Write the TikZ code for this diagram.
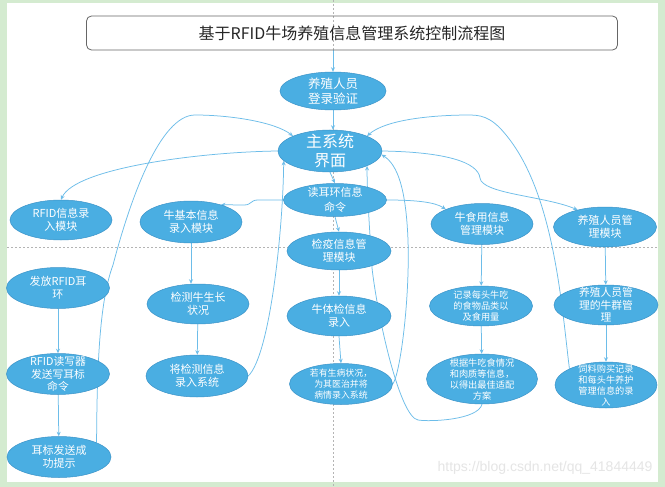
\documentclass[tikz,border=0pt]{standalone}
\usepackage{fontspec}
\setmainfont{Noto Sans CJK SC}
\newfontfamily\wmfont{Liberation Sans}
\usetikzlibrary{shapes.geometric,arrows.meta}
\pgfdeclarelayer{back}
\pgfdeclarelayer{bg}
\pgfsetlayers{back,bg,main}
\definecolor{bgreen}{HTML}{D4EBD0}
\definecolor{nodefill}{HTML}{4AAEE2}
\definecolor{nodeedge}{HTML}{3B93C8}
\definecolor{connblue}{HTML}{6DBDE9}
\definecolor{dotgray}{HTML}{B4B4B4}
\begin{document}
\begin{tikzpicture}[x=1pt,y=-1pt,
  oval/.style={ellipse, fill=nodefill, draw=nodeedge, line width=0.5pt, text=white, align=center, inner sep=-6pt},
  fbig/.style={font=\fontsize{16}{19}\selectfont},
  fmid/.style={font=\fontsize{12.5}{15}\selectfont},
  fnorm/.style={font=\fontsize{11}{13.5}\selectfont},
  fsm/.style={font=\fontsize{10.8}{12.6}\selectfont},
  ftiny/.style={font=\fontsize{9.2}{11}\selectfont},
  link/.style={draw=connblue, line width=0.75pt, -{Stealth[length=4.5pt,width=4pt]}},
  gridline/.style={draw=dotgray, line width=0.6pt, dash pattern=on 2pt off 2pt}
]
\useasboundingbox (0,0) rectangle (665,487);
\begin{pgfonlayer}{back}
\fill[bgreen] (0,0) rectangle (665,487);
\fill[white] (7,3) rectangle (658,482);
\end{pgfonlayer}

\node[draw=black!60, rounded corners=5pt, line width=0.8pt, minimum width=531pt, minimum height=34pt, fbig, text=black!85] (title) at (352,33) {基于RFID牛场养殖信息管理系统控制流程图};

\node[oval, minimum width=106pt, minimum height=38pt, fmid] (login) at (333,91) {养殖人员\\登录验证};
\node[oval, minimum width=104pt, minimum height=42pt, fbig] (main) at (330,151) {主系统\\界面};
\node[oval, minimum width=103pt, minimum height=33pt, font=\fontsize{11}{15}\selectfont] (read) at (335,200) {读耳环信息\\命令};
\node[oval, minimum width=104pt, minimum height=38pt, fnorm] (jianyi) at (339,251) {检疫信息管\\理模块};
\node[oval, minimum width=104pt, minimum height=40pt, fnorm] (tijian) at (339,316) {牛体检信息\\录入};
\node[oval, minimum width=103pt, minimum height=41pt, font=\fontsize{8.9}{11}\selectfont] (sick) at (341,384) {若有生病状况，\\为其医治并将\\病情录入系统};

\node[oval, minimum width=102pt, minimum height=40pt, fnorm] (rfid) at (61,220) {RFID信息录\\入模块};
\node[oval, minimum width=102pt, minimum height=42pt, fnorm] (jiben) at (191,222) {牛基本信息\\录入模块};
\node[oval, minimum width=102pt, minimum height=41pt, fnorm] (shiyong) at (482,224) {牛食用信息\\管理模块};
\node[oval, minimum width=103pt, minimum height=40pt, fnorm] (guanli) at (605,227) {养殖人员管\\理模块};

\node[oval, minimum width=103pt, minimum height=41pt, fnorm] (fafang) at (58,288) {发放RFID耳\\环};
\node[oval, minimum width=103pt, minimum height=41pt, fsm] (duxie) at (58,374) {RFID读写器\\发送写耳标\\命令};
\node[oval, minimum width=104pt, minimum height=41pt, fnorm] (erbiao) at (59,457) {耳标发送成\\功提示};

\node[oval, minimum width=102pt, minimum height=40pt, fnorm] (jiance) at (198,304) {检测牛生长\\状况};
\node[oval, minimum width=102pt, minimum height=42pt, fnorm] (luru) at (197,376) {将检测信息\\录入系统};

\node[oval, minimum width=103pt, minimum height=40pt, ftiny] (jilu) at (481,306) {记录每头牛吃\\的食物品类以\\及食用量};
\node[oval, minimum width=111pt, minimum height=50pt, ftiny] (genju) at (482,379) {根据牛吃食情况\\和肉质等信息，\\以得出最佳适配\\方案};

\node[oval, minimum width=104pt, minimum height=40pt, fsm] (niuqun) at (606,305) {养殖人员管\\理的牛群管\\理};
\node[oval, minimum width=102pt, minimum height=46pt, ftiny] (siliao) at (606,385) {饲料购买记录\\和每头牛养护\\管理信息的录\\入};

\node[font=\wmfont\fontsize{14}{16}\selectfont, text=black!10, anchor=east] (wm) at (656,468) {https://blog.csdn.net/qq\_41844449};

\begin{pgfonlayer}{bg}
\draw[gridline] (333,0) -- (333,487);
\draw[gridline] (7,247) -- (658,247);

\draw[link] (login|-title.south) -- (login.north);
\draw[link] (login.south) -- (login.south|-main.north);
\draw[link] (main.south) -- (read.north);
\draw[link] (read.south) -- (jianyi.north);
\draw[link] (jianyi.south) -- (tijian.north);
\draw[link] (tijian.south) -- (sick.north);

\draw[link] (fafang) -- (duxie);
\draw[link] (duxie) -- (erbiao);
\draw[link] (jiben.south) -- (jiben.south|-jiance.north);
\draw[link] (jiance) -- (luru);
\draw[link] (shiyong) -- (jilu);
\draw[link] (jilu) -- (genju);
\draw[link] (guanli) -- (niuqun);
\draw[link] (niuqun) -- (siliao);

\draw[link] (main.west) .. controls (200,152) and (75,168) .. (rfid.north);
\draw[link] (read.west) -- (258,200) .. controls (250,200) and (252,205) .. (244,205) -- (jiben.30);
\draw[link] (read.east) .. controls (415,200) and (435,202) .. (shiyong.158);
\draw[link] (main.east) .. controls (445,152) and (478,162) .. (480,178) .. controls (482,194) and (545,196) .. (guanli.148);

\draw[link] (erbiao.21) .. controls (97,360) and (100,300) .. (113,265) .. controls (130,200) and (160,115) .. (195,115) .. controls (230,115) and (275,122) .. (main.158);
\draw[link] (luru.east) .. controls (270,355) and (283,230) .. (main.192);
\draw[link] (sick.east) .. controls (400,375) and (410,300) .. (408,240) .. controls (406,190) and (398,165) .. (main.356);
\draw[link] (genju.south) .. controls (478,420) and (430,422) .. (418,420) .. controls (400,417) and (378,320) .. (372,268) .. controls (369,220) and (367,190) .. (main.338);
\draw[link] (siliao.156) .. controls (562,310) and (555,200) .. (510,140) .. controls (495,120) and (485,115) .. (470,115) .. controls (430,115) and (385,120) .. (main.22);
\end{pgfonlayer}
\end{tikzpicture}
\end{document}
